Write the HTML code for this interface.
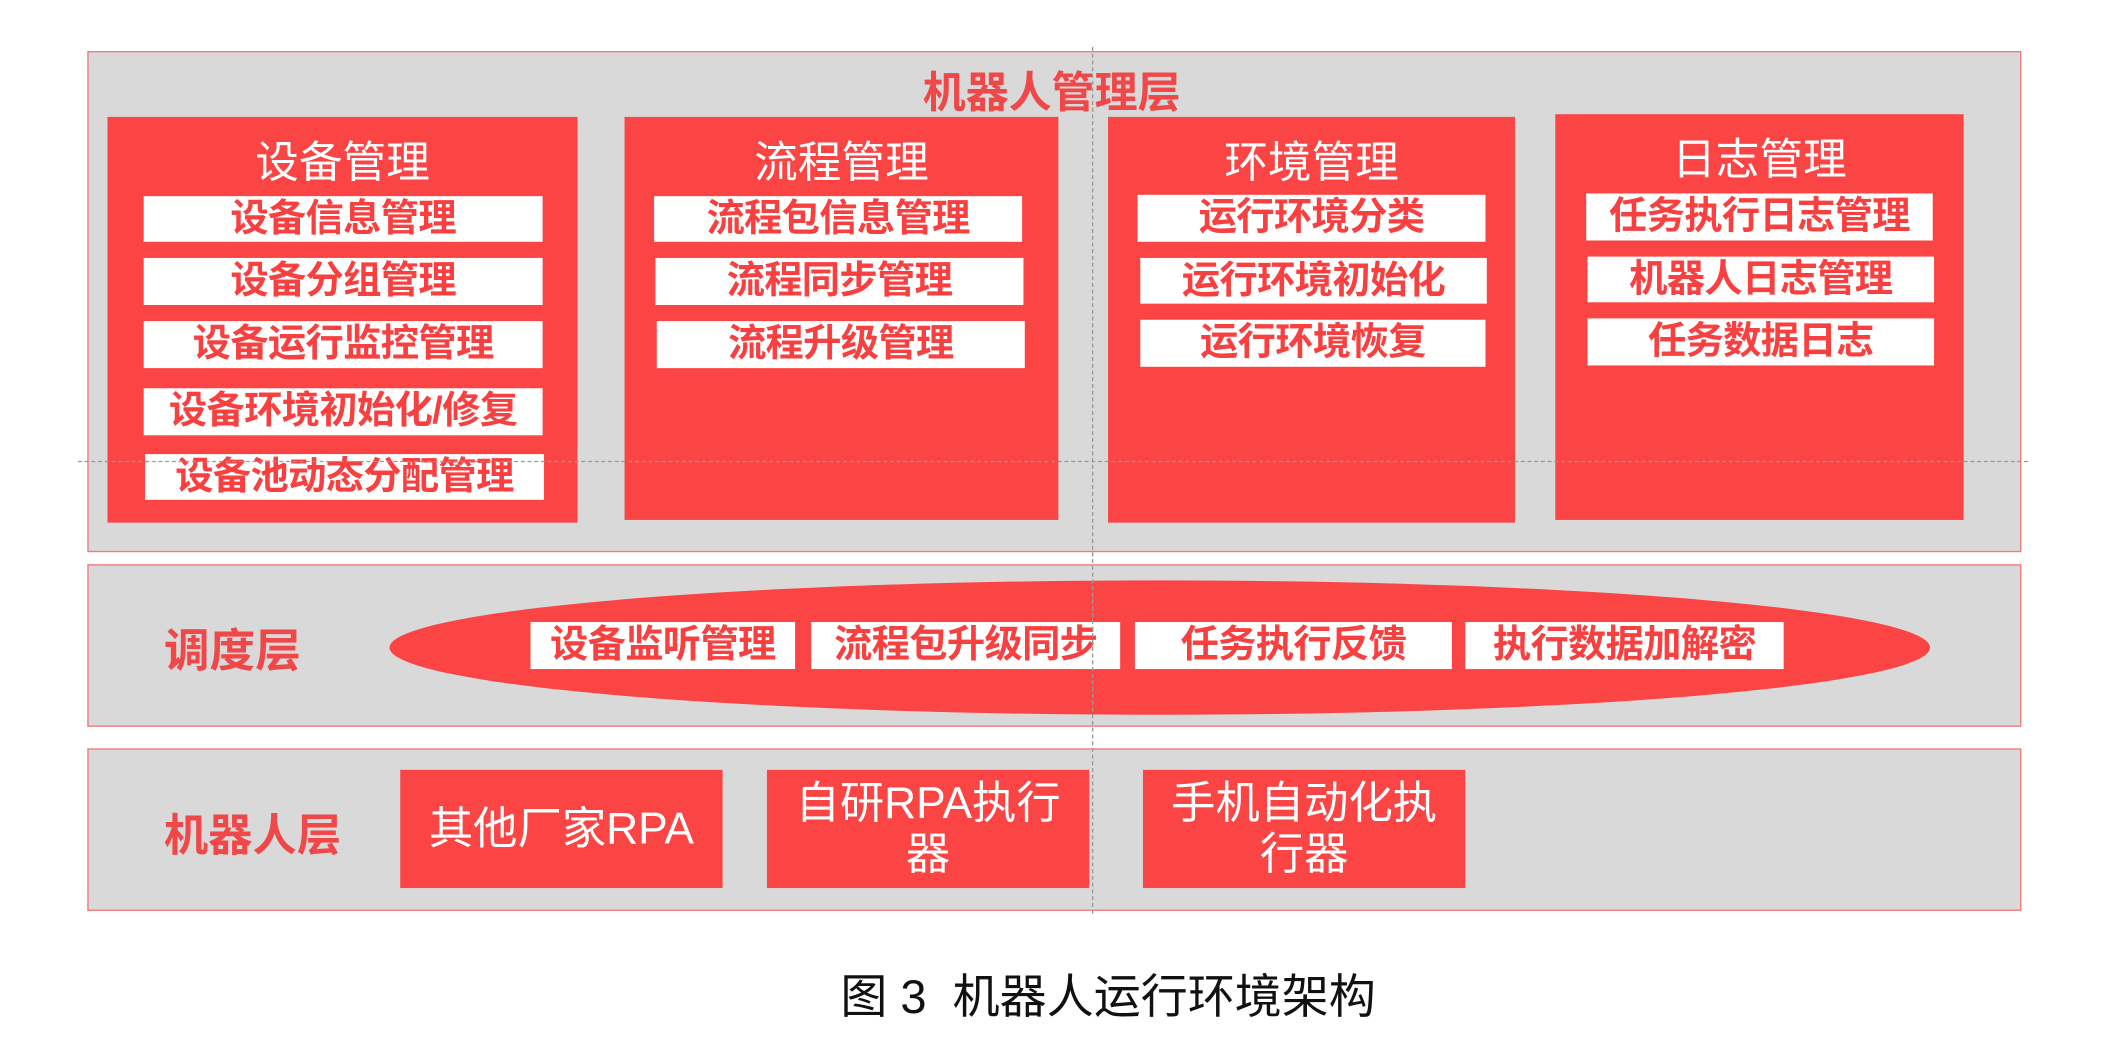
<!DOCTYPE html>
<html><head><meta charset="utf-8"><style>
html,body{margin:0;padding:0;background:#fff;width:2106px;height:1056px;overflow:hidden}
#w{position:absolute;left:0;top:0;width:1568px;height:786px;transform-origin:0 0;transform:scale(1.3431,1.3435);font-family:"Liberation Sans","Noto Sans CJK SC",sans-serif}
.a{position:absolute;box-sizing:border-box}
.box{background:#d9d9d9;border:1.5px solid #f47a7a}
.col{background:#fb4545}
.hd{color:#fff;font-size:32.5px;text-align:center;line-height:36px}
.it{background:#fff;color:#f84040;font-weight:bold;font-size:28.5px;text-align:center;line-height:35px;white-space:nowrap;overflow:hidden;letter-spacing:-0.5px}
.lbl{color:#f04848;font-weight:bold;font-size:33px;white-space:nowrap}
.rb{background:#fb4545;color:#fff;font-size:33px;text-align:center;display:flex;align-items:center;justify-content:center;line-height:38px}
</style></head><body><div id="w">
<div class="a box" style="left:65px;top:38px;width:1440px;height:373px"></div>
<div class="a lbl" style="left:673px;top:44px;width:220px;text-align:center;font-size:32px">机器人管理层</div>
<div class="a col" style="left:80px;top:87px;width:350px;height:302px"></div>
<div class="a col" style="left:465px;top:87px;width:323px;height:300px"></div>
<div class="a col" style="left:825px;top:87px;width:303px;height:302px"></div>
<div class="a col" style="left:1158px;top:85px;width:304px;height:302px"></div>
<div class="a hd" style="left:80px;top:103px;width:350px">设备管理</div>
<div class="a hd" style="left:465px;top:103px;width:323px">流程管理</div>
<div class="a hd" style="left:825px;top:103px;width:303px">环境管理</div>
<div class="a hd" style="left:1158px;top:101px;width:304px">日志管理</div>
<div class="a it" style="left:107px;top:146px;width:297px;height:34px">设备信息管理</div>
<div class="a it" style="left:107px;top:192px;width:297px;height:35px">设备分组管理</div>
<div class="a it" style="left:107px;top:239px;width:297px;height:35px">设备运行监控管理</div>
<div class="a it" style="left:107px;top:289px;width:297px;height:35px">设备环境初始化/修复</div>
<div class="a it" style="left:108px;top:338px;width:297px;height:34px">设备池动态分配管理</div>
<div class="a it" style="left:487px;top:146px;width:274px;height:34px">流程包信息管理</div>
<div class="a it" style="left:488px;top:192px;width:274px;height:35px">流程同步管理</div>
<div class="a it" style="left:489px;top:239px;width:274px;height:35px">流程升级管理</div>
<div class="a it" style="left:847px;top:145px;width:259px;height:35px">运行环境分类</div>
<div class="a it" style="left:849px;top:192px;width:258px;height:34px">运行环境初始化</div>
<div class="a it" style="left:849px;top:238px;width:257px;height:35px">运行环境恢复</div>
<div class="a it" style="left:1181px;top:144px;width:258px;height:35px">任务执行日志管理</div>
<div class="a it" style="left:1182px;top:191px;width:258px;height:34px">机器人日志管理</div>
<div class="a it" style="left:1182px;top:237px;width:258px;height:35px">任务数据日志</div>

<div class="a box" style="left:65px;top:420px;width:1440px;height:121px"></div>
<div class="a lbl" style="left:122px;top:457px;font-size:34px">调度层</div>
<div class="a" style="left:290px;top:432px;width:1147px;height:100px;border-radius:50%;background:#fb4545"></div>
<div class="a it" style="left:395px;top:463px;width:197px;height:35px;font-size:28.5px">设备监听管理</div>
<div class="a it" style="left:604px;top:463px;width:230px;height:35px;font-size:28.5px">流程包升级同步</div>
<div class="a it" style="left:845px;top:463px;width:236px;height:35px;font-size:28.5px">任务执行反馈</div>
<div class="a it" style="left:1091px;top:463px;width:237px;height:35px;font-size:28.5px">执行数据加解密</div>

<div class="a box" style="left:65px;top:557px;width:1440px;height:121px"></div>
<div class="a lbl" style="left:122px;top:595px">机器人层</div>
<div class="a rb" style="left:298px;top:573px;width:240px;height:88px">其他厂家RPA</div>
<div class="a rb" style="left:571px;top:573px;width:240px;height:88px">自研RPA执行<br>器</div>
<div class="a rb" style="left:851px;top:573px;width:240px;height:88px">手机自动化执<br>行器</div>

<div class="a" style="left:813px;top:35px;width:0;height:645px;border-left:1px dashed #999"></div>
<div class="a" style="left:58px;top:343px;width:1452px;height:0;border-top:1px dashed #999"></div>

<div class="a" style="left:475px;top:714px;width:700px;text-align:center;font-size:35px;color:#111">图 3&nbsp; 机器人运行环境架构</div>
</div></body></html>
